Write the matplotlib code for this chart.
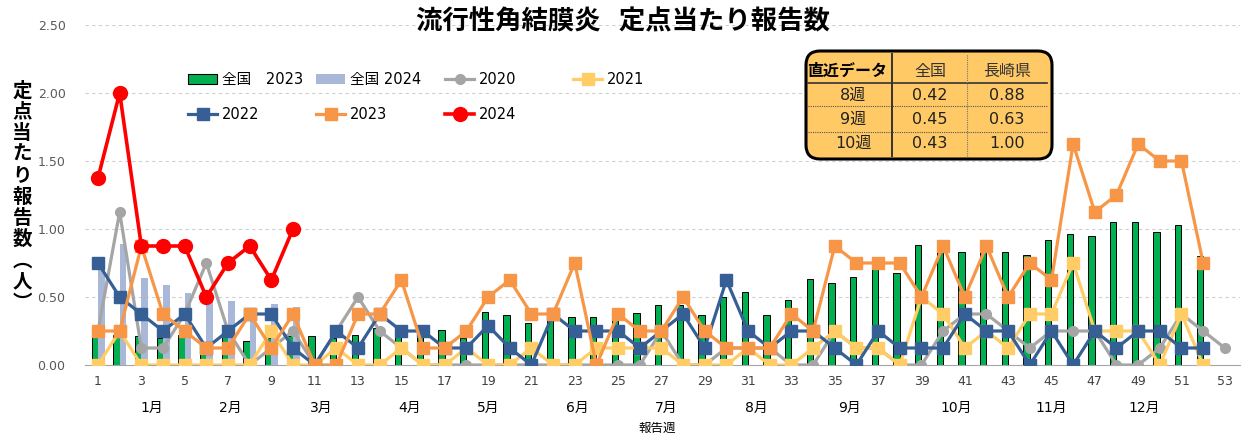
import matplotlib.pyplot as plt
import numpy as np
from matplotlib.patches import FancyBboxPatch, Patch
from matplotlib.lines import Line2D

plt.rcParams['font.family'] = ['DejaVu Sans', 'Noto Sans CJK JP']

# 全国 (national) weekly values
nat2023 = [0.22, 0.22, 0.21, 0.20, 0.22, 0.15, 0.21, 0.18, 0.20, 0.21,
           0.21, 0.20, 0.22, 0.27, 0.22, 0.25, 0.26, 0.20, 0.39, 0.37,
           0.31, 0.37, 0.35, 0.35, 0.37, 0.38, 0.44, 0.44, 0.37, 0.50,
           0.54, 0.37, 0.48, 0.63, 0.60, 0.65, 0.77, 0.68, 0.88, 0.88,
           0.83, 0.87, 0.83, 0.81, 0.92, 0.96, 0.95, 1.05, 1.05, 0.98,
           1.03, 0.80]
nat2024 = [0.72, 0.89, 0.64, 0.59, 0.53, 0.47, 0.47, 0.42, 0.45, 0.43]

# 長崎県 weekly values
y2020 = [0.25, 1.125, 0.125, 0.125, 0.375, 0.75, 0.25, 0, 0.125, 0.25,
         0, 0.25, 0.5, 0.25, 0.125, 0, 0, 0, 0, 0,
         0, 0, 0, 0, 0, 0, 0.25, 0, 0, 0.125,
         0.125, 0.125, 0, 0, 0.25, 0.125, 0.125, 0, 0, 0.25,
         0.375, 0.375, 0.25, 0.125, 0.25, 0.25, 0.25, 0, 0, 0.125,
         0.375, 0.25, 0.125]
y2021 = [0, 0.25, 0, 0, 0, 0, 0, 0, 0.25, 0,
         0, 0.125, 0, 0, 0.125, 0, 0, 0.125, 0, 0,
         0.125, 0, 0, 0.125, 0.125, 0.125, 0.125, 0, 0, 0,
         0.125, 0, 0, 0.125, 0.25, 0.125, 0.125, 0, 0.5, 0.375,
         0.125, 0.25, 0.125, 0.375, 0.375, 0.75, 0.25, 0.25, 0.25, 0,
         0.375, 0]
y2022 = [0.75, 0.5, 0.375, 0.25, 0.375, 0.125, 0.25, 0.375, 0.375, 0.125,
         0, 0.25, 0.125, 0.375, 0.25, 0.25, 0.125, 0.125, 0.29, 0.125,
         0, 0.375, 0.25, 0.25, 0.25, 0.125, 0.25, 0.375, 0.125, 0.625,
         0.25, 0.125, 0.25, 0.25, 0.125, 0, 0.25, 0.125, 0.125, 0.125,
         0.375, 0.25, 0.25, 0, 0.25, 0, 0.25, 0.125, 0.25, 0.25,
         0.125, 0.125]
y2023 = [0.25, 0.25, 0.875, 0.375, 0.25, 0.125, 0.125, 0.375, 0.125, 0.375,
         0, 0, 0.375, 0.375, 0.625, 0.125, 0.125, 0.25, 0.5, 0.625,
         0.375, 0.375, 0.75, 0, 0.375, 0.25, 0.25, 0.5, 0.25, 0.125,
         0.125, 0.125, 0.375, 0.25, 0.875, 0.75, 0.75, 0.75, 0.5, 0.875,
         0.5, 0.875, 0.5, 0.75, 0.625, 1.625, 1.125, 1.25, 1.625, 1.5,
         1.5, 0.75]
y2024 = [1.375, 2.0, 0.875, 0.875, 0.875, 0.5, 0.75, 0.875, 0.625, 1.0]

months = ['1月', '2月', '3月', '4月', '5月', '6月', '7月', '8月', '9月', '10月', '11月', '12月']
month_pos = [3.5, 7.1, 11.3, 15.4, 19.0, 23.1, 27.2, 31.4, 35.7, 40.6, 45.0, 49.3]

table_head = ['直近データ', '全国', '長崎県']
table_rows = [['8週', '0.42', '0.88'],
              ['9週', '0.45', '0.63'],
              ['10週', '0.43', '1.00']]

c_green = '#00B050'
c_lblue = '#A9B8D9'
c_gray = '#A5A5A5'
c_yellow = '#FFCC66'
c_blue = '#365F96'
c_orange = '#F79646'
c_red = '#FF0000'

fig = plt.figure(figsize=(12.48, 4.42), dpi=100)
ax = fig.add_axes([85 / 1248, 1 - 365 / 442, 1155 / 1248, 340 / 442])

ax.bar(np.arange(1, len(nat2023) + 1) - 0.15, nat2023, width=0.3, color=c_green,
       edgecolor='black', linewidth=0.7, zorder=2)
ax.bar(np.arange(1, len(nat2024) + 1) + 0.15, nat2024, width=0.3, color=c_lblue, zorder=2)

ax.plot(np.arange(1, len(y2020) + 1), y2020, color=c_gray, lw=2.3, marker='o', ms=7, zorder=3)
ax.plot(np.arange(1, len(y2021) + 1), y2021, color=c_yellow, lw=2.3, marker='s', ms=8, zorder=4)
ax.plot(np.arange(1, len(y2022) + 1), y2022, color=c_blue, lw=2.3, marker='s', ms=8, zorder=5)
ax.plot(np.arange(1, len(y2023) + 1), y2023, color=c_orange, lw=2.3, marker='s', ms=8, zorder=6)
ax.plot(np.arange(1, len(y2024) + 1), y2024, color=c_red, lw=2.6, marker='o', ms=10, zorder=7)

ax.set_xlim(0.4, 53.7)
ax.set_ylim(0, 2.5)
ax.set_yticks(np.arange(0, 2.51, 0.5))
ax.set_yticklabels(['%.2f' % v for v in np.arange(0, 2.51, 0.5)])
ax.set_xticks(range(1, 54, 2))
ax.yaxis.grid(True, ls=(0, (3, 3)), color='#CFCFCF', lw=0.8)
ax.set_axisbelow(True)
for s in ['top', 'right', 'left']:
    ax.spines[s].set_visible(False)
ax.spines['bottom'].set_color('#A6A6A6')
ax.tick_params(axis='y', length=0, pad=14, labelsize=9, labelcolor='#595959')
ax.tick_params(axis='x', length=0, pad=7, labelsize=9, labelcolor='#404040')

for m, p in zip(months, month_pos):
    ax.text(p, -0.126, m, transform=ax.get_xaxis_transform(), ha='center', va='center', fontsize=10)
ax.text(26.8, -0.185, '報告週', transform=ax.get_xaxis_transform(), ha='center', va='center', fontsize=9)

fig.text(0.499, 1 - 22 / 442, '流行性角結膜炎  定点当たり報告数', ha='center', va='center',
         fontsize=19, fontweight='bold')
fig.text(22 / 1248, 1 - 197 / 442, '\n'.join(list('定点当たり報告数︵人︶')), ha='center', va='center',
         fontsize=14, fontweight='bold', linespacing=1.15)

# legend, four columns placed one by one
cols = [
    [(Patch(facecolor=c_green, edgecolor='black', lw=0.8), '全国　2023'),
     (Line2D([], [], color=c_blue, lw=2.3, marker='s', ms=8), '2022')],
    [(Patch(facecolor=c_lblue), '全国 2024'),
     (Line2D([], [], color=c_orange, lw=2.3, marker='s', ms=8), '2023')],
    [(Line2D([], [], color=c_gray, lw=2.3, marker='o', ms=7), '2020'),
     (Line2D([], [], color=c_red, lw=2.6, marker='o', ms=10), '2024')],
    [(Line2D([], [], color=c_yellow, lw=2.3, marker='s', ms=8), '2021')],
]
for xpos, col in zip([188, 316, 445, 573], cols):
    leg = fig.legend([h for h, l in col], [l for h, l in col], loc='upper left',
                     bbox_to_anchor=(xpos / 1248, 1 - 72 / 442), frameon=False,
                     borderpad=0, borderaxespad=0, handlelength=2.0, handletextpad=0.3,
                     labelspacing=1.35, fontsize=10.5)

# table of latest values
tax = fig.add_axes([803 / 1248, 1 - 162 / 442, 252 / 1248, 114 / 442])
tax.set_xlim(0, 252)
tax.set_ylim(0, 114)
tax.axis('off')
tax.add_patch(FancyBboxPatch((3, 3), 246, 108, boxstyle='round,pad=0,rounding_size=14',
                             fc='#FFC966', ec='black', lw=2.2))
tax.plot([5, 244], [79.5, 79.5], color='#333333', lw=1.2)
tax.plot([5, 244], [56, 56], color='#555555', lw=0.8, ls=(0, (1, 1)))
tax.plot([5, 244], [30.5, 30.5], color='#555555', lw=0.8, ls=(0, (1, 1)))
tax.plot([89, 89], [6, 108], color='#333333', lw=1.4)
tax.plot([164, 164], [6, 108], color='#777777', lw=0.8, ls=(0, (1, 1)))
col_x = [44, 127, 204]
tax.text(col_x[0], 90.5, table_head[0], ha='center', va='center', fontsize=11.5, fontweight='bold')
tax.text(col_x[1], 90.5, table_head[1], ha='center', va='center', fontsize=11.5, color='#333333')
tax.text(col_x[2], 90.5, table_head[2], ha='center', va='center', fontsize=11.5, color='#333333')
for r, yy in zip(table_rows, [67, 43, 19]):
    tax.text(50, yy, r[0], ha='center', va='center', fontsize=11.5, color='#222222')
    tax.text(col_x[1], yy, r[1], ha='center', va='center', fontsize=11.5, color='#222222')
    tax.text(col_x[2], yy, r[2], ha='center', va='center', fontsize=11.5, color='#222222')

fig.savefig('out.png', dpi=100)
